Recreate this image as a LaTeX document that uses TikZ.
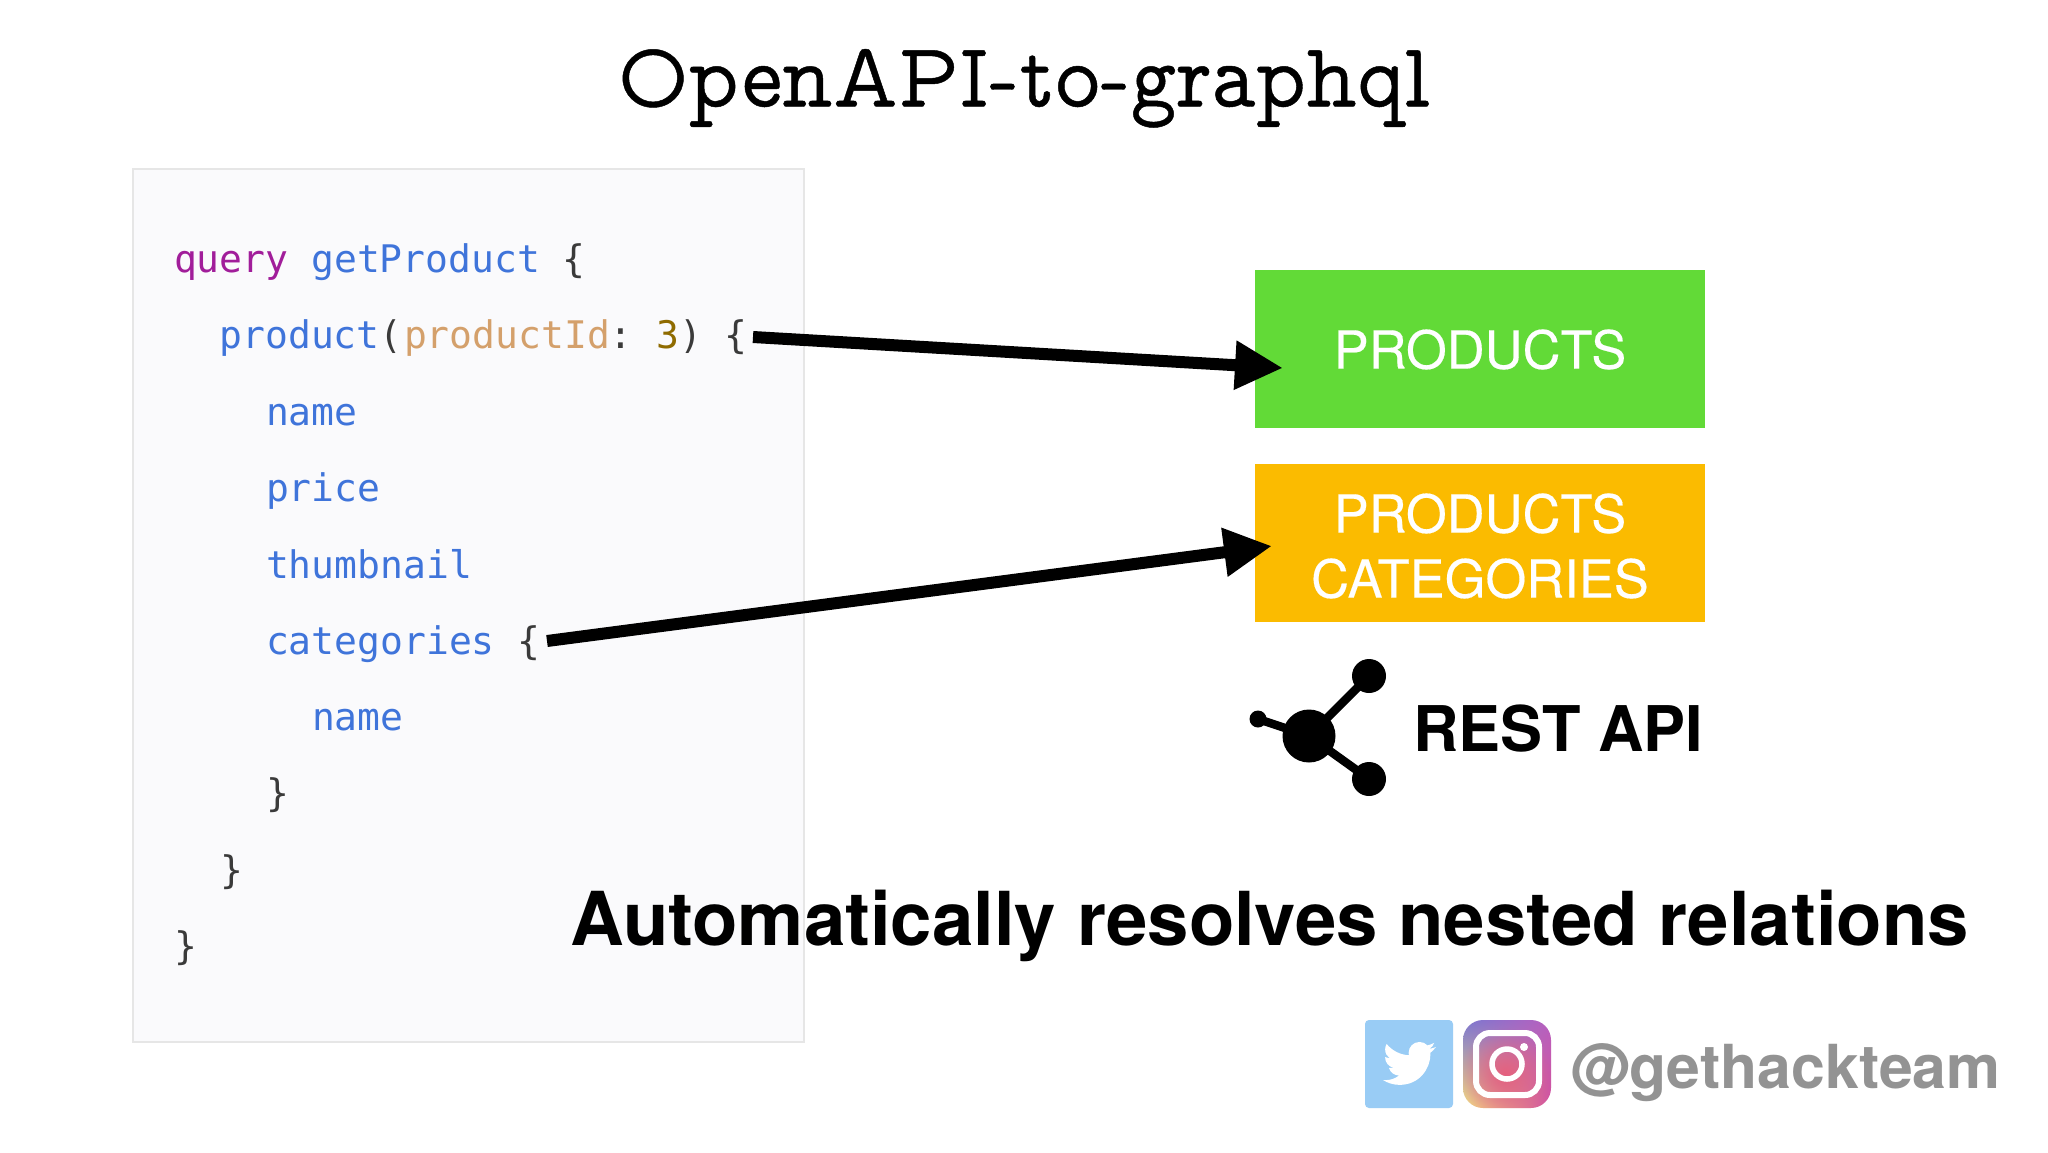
\documentclass[tikz,border=0pt]{standalone}
\usepackage{fontspec}
\setmainfont{TeX Gyre Heros}
\newfontfamily\boxfont[FakeBold=0.3]{TeX Gyre Heros}
\newfontfamily\codefont{DejaVu Sans Mono}
\newfontfamily\titlefont[FakeBold=0.5]{Latin Modern Mono Prop}
\usetikzlibrary{arrows.meta,shadings,fadings}
\tikzfading[name=igfade,inner color=transparent!0,outer color=transparent!100]
\definecolor{cblue}{HTML}{3F74DA}
\definecolor{cpurple}{HTML}{A11D9A}
\definecolor{carg}{HTML}{D4A06B}
\definecolor{cnum}{HTML}{8F6B00}
\definecolor{cpunct}{HTML}{3A3A3A}
\definecolor{boxgreen}{HTML}{62DA37}
\definecolor{boxorange}{HTML}{FBBB00}
\definecolor{codebg}{HTML}{FAFAFC}
\definecolor{codeline}{HTML}{E6E6E6}
\definecolor{twblue}{HTML}{99CCF5}
\definecolor{handlegray}{HTML}{939393}
\definecolor{igul}{HTML}{7B78D0}
\definecolor{igur}{HTML}{B85FBF}
\definecolor{igll}{HTML}{F6DA80}
\definecolor{iglr}{HTML}{D4509C}
\definecolor{igmid}{HTML}{E5607E}
\tikzset{
 x=1pt,y=-1pt,
 codeln/.style={anchor=base west,inner sep=0pt,outer sep=0pt,text=cblue,font=\codefont\fontsize{38}{38}\selectfont},
 tablebox/.style={anchor=north west,inner sep=0pt,outer sep=0pt,minimum width=450pt,minimum height=158pt},
 boxlabel/.style={inner sep=0pt,outer sep=0pt,text=white,align=center,font=\boxfont\fontsize{52.5}{65}\selectfont},
 bigarrow/.style={line width=12pt,-{Triangle[length=48pt,width=46pt]}},
 hub/.style={circle,fill=black,inner sep=0pt,outer sep=0pt},
 spoke/.style={line width=8.5pt,black},
 boldtxt/.style={anchor=base west,inner sep=0pt,outer sep=0pt,font=\bfseries},
}
\begin{document}
\begin{tikzpicture}
\useasboundingbox[fill=white] (0,0) rectangle (2048,1152);
\node[anchor=base,inner sep=0pt] (title) at (1024,106.5) {\scalebox{.942}[1]{\titlefont\fontsize{92}{92}\selectfont OpenAPI-to-graphql}};
\node[anchor=north west,draw=codeline,fill=codebg,line width=1.5pt,minimum width=671pt,minimum height=873pt,inner sep=0pt] (codebox) at (132,168) {};
\node[codeln] (l0) at (174,272.0) {\textcolor{cpurple}{query} getProduct \textcolor{cpunct}{\{}};
\node[codeln] (l1) at (219.5,348.4) {product\textcolor{cpunct}{(}\textcolor{carg}{\hspace{1.5pt}productId}\textcolor{cpunct}{:} \hspace{-7pt}\textcolor{cnum}{3}\textcolor{cpunct}{) \{}};
\node[codeln] (l2) at (266,425.5) {name};
\node[codeln] (l3) at (266,501.2) {price};
\node[codeln] (l4) at (266,578.2) {thumbnail};
\node[codeln] (l5) at (266,654.0) {categories \textcolor{cpunct}{\{}};
\node[codeln] (l6) at (312,730.9) {name};
\node[codeln,text=cpunct] (l7) at (266,806.8) {\}};
\node[codeln,text=cpunct] (l8) at (220,883.2) {\}};
\node[codeln,text=cpunct] (l9) at (174,959.6) {\}};
\node[tablebox,fill=boxgreen] (products) at (1255,270) {};
\node[tablebox,fill=boxorange] (cats) at (1255,464) {};
\node[boxlabel,yshift=-0.5pt] (ptext) at (products.center) {PRODUCTS};
\node[boxlabel,yshift=-3pt] (ctext) at (cats.center) {PRODUCTS\\CATEGORIES};
\coordinate (a1s) at (753,337);
\coordinate (a1e) at (1283,368);
\coordinate (a2s) at (547,641);
\coordinate (a2e) at (1272,546);
\draw[bigarrow] (a1s) -- (a1e);
\draw[bigarrow] (a2s) -- (a2e);
% REST icon
\node[hub,minimum size=53pt] (hubc) at (1309,736) {};
\node[hub,minimum size=34pt] (hubt) at (1369,676) {};
\node[hub,minimum size=34pt] (hubb) at (1369,779) {};
\node[hub,minimum size=17pt] (hubl) at (1258,719) {};
\draw[spoke] (hubc.center) -- (hubt.center);
\draw[spoke] (hubc.center) -- (hubb.center);
\draw[spoke] (hubc.center) -- (hubl.center);
\node[boldtxt,font=\bfseries\fontsize{63}{63}\selectfont] (rest) at (1413,751) {REST API};
\node[boldtxt,font=\bfseries\fontsize{74.4}{74.4}\selectfont] (auto) at (570,945) {Automatically resolves nested relations};
% twitter
\fill[twblue,rounded corners=4pt] (1365,1020) rectangle (1453,1108);
\begin{scope}[shift={(1383,1037)},x=2.2pt,y=-2.2pt]
\fill[white] (23.953,4.57) .. controls (23.07,4.96) and (22.12,5.22) .. (21.128,5.345)
 .. controls (22.14,4.74) and (22.92,3.78) .. (23.291,2.622)
 .. controls (22.34,3.177) and (21.286,3.581) .. (20.164,3.806)
 .. controls (19.27,2.77) and (18.0,2.25) .. (16.57,2.25)
 .. controls (13.85,2.25) and (11.65,4.45) .. (11.65,7.17)
 .. controls (11.65,7.55) and (11.69,7.93) .. (11.78,8.288)
 .. controls (7.69,8.095) and (4.067,6.13) .. (1.64,3.162)
 .. controls (1.22,3.87) and (.974,4.73) .. (.974,5.637)
 .. controls (.974,7.347) and (1.844,8.85) .. (3.162,9.733)
 .. controls (2.36,9.71) and (1.6,9.49) .. (.934,9.117)
 -- (.934,9.177)
 .. controls (.934,11.56) and (2.63,13.54) .. (4.88,14.004)
 .. controls (4.15,14.2) and (3.39,14.23) .. (2.668,14.089)
 .. controls (3.3,16.07) and (5.14,17.46) .. (7.272,17.506)
 .. controls (5.6,18.83) and (3.48,19.61) .. (1.17,19.611)
 .. controls (.78,19.611) and (.391,19.588) .. (0,19.544)
 .. controls (2.18,20.94) and (4.77,21.753) .. (7.557,21.753)
 .. controls (16.61,21.753) and (21.555,14.257) .. (21.555,7.768)
 .. controls (21.555,7.558) and (21.555,7.348) .. (21.54,7.138)
 .. controls (22.5,6.45) and (23.33,5.58) .. (24,4.59) -- cycle;
\end{scope}
% instagram
\begin{scope}
\clip[rounded corners=20pt] (1463,1020) rectangle (1551,1108);
\shade[shading=bilinear interpolation,upper left=igul,upper right=igur,lower left=igll,lower right=iglr] (1463,1020) rectangle (1551,1108);
\fill[igmid,path fading=igfade] (1505,1074) circle (46pt);
\end{scope}
\draw[white,line width=6pt,rounded corners=14pt] (1476,1033) rectangle (1539,1095);
\draw[white,line width=5.5pt] (1507,1064) circle (15pt);
\fill[white] (1524,1047) circle (4pt);
\node[boldtxt,text=handlegray,font=\bfseries\fontsize{60.7}{60.7}\selectfont] (handle) at (1570,1088) {@gethackteam};
\end{tikzpicture}
\end{document}
